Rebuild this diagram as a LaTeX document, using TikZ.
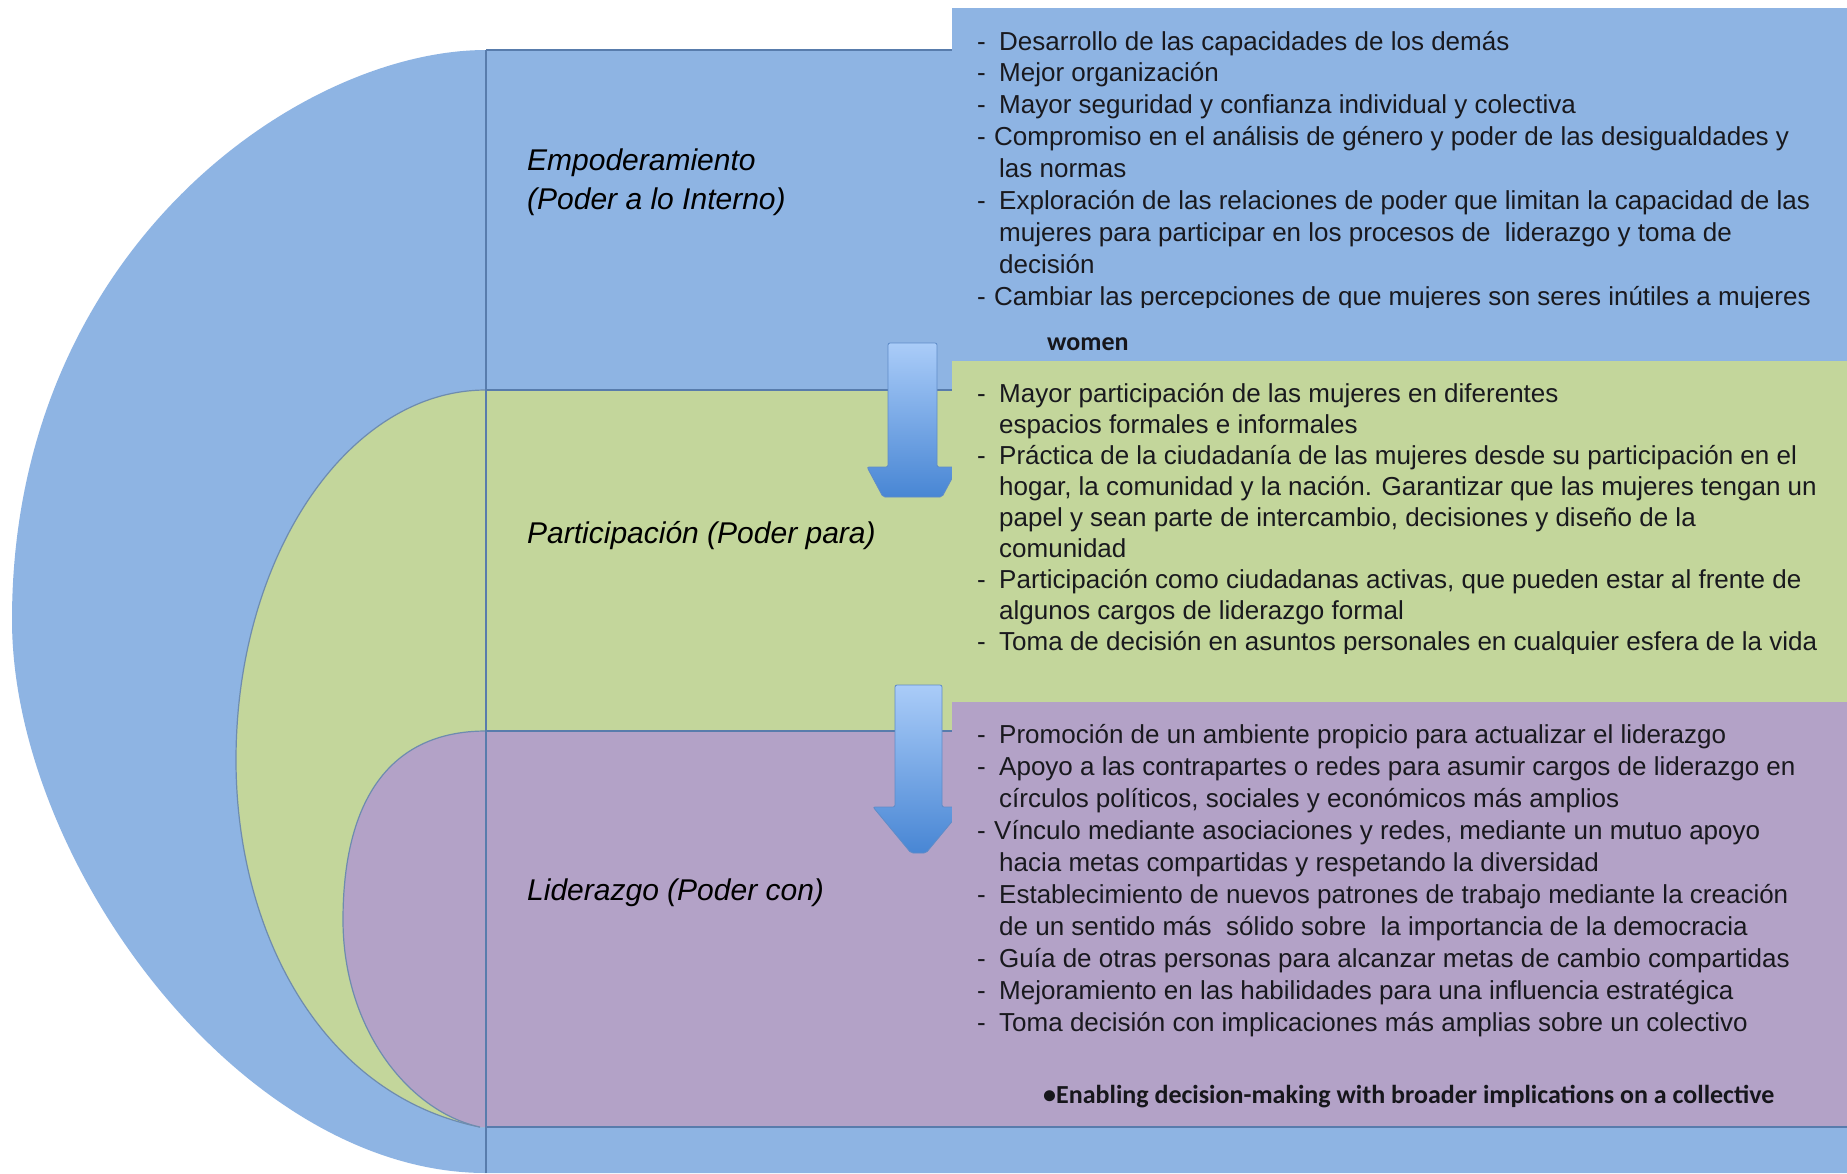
\documentclass[tikz,border=0pt]{standalone}
\usepackage{fontspec}
\setmainfont{Liberation Sans}
\newfontfamily\calib{Carlito}
\definecolor{bluefill}{RGB}{142,180,227}
\definecolor{greenfill}{RGB}{195,214,155}
\definecolor{purplefill}{RGB}{179,162,199}
\definecolor{sepc}{RGB}{88,124,172}
\definecolor{edgec}{RGB}{110,140,175}
\definecolor{textc}{RGB}{25,25,30}
\definecolor{arrtop}{RGB}{170,204,248}
\definecolor{arrbot}{RGB}{72,134,212}
\definecolor{arredge}{RGB}{95,140,200}
\newcommand\itemdash{\makebox[22pt][l]{-}}
\newcommand\itemdashn{\makebox[17pt][l]{-}}
\newcommand\itemind{\hspace*{22pt}}
\begin{document}
\begin{tikzpicture}[x=1pt,y=-1pt,
  bodytxt/.style={anchor=base west, inner sep=0pt, text=textc, font=\fontsize{26}{31}\selectfont},
  lab/.style={anchor=base west, inner sep=0pt, text=black, font=\fontsize{30}{36}\selectfont\itshape},
  eng/.style={anchor=base west, inner sep=0pt, text=textc!90!black, font=\calib\bfseries\fontsize{26}{31}\selectfont},
  sep/.style={draw=sepc, line width=1.6pt},
  edgeline/.style={draw=edgec, line width=1.2pt},
  arrowshape/.style={top color=arrtop, bottom color=arrbot, draw=arredge, line width=0.8pt, rounded corners=2pt}]
\fill[white] (0,0) rectangle (1847,1173);
\useasboundingbox (0,0) rectangle (1847,1173);
% outer blue shape
\fill[bluefill] (486,50) .. controls (300,50) and (12,250) .. (12,620)
  .. controls (12,860) and (240,1173) .. (486,1173) -- (1847,1173) -- (1847,50) -- cycle;
% green shape
\fill[greenfill] (486,390) .. controls (348,390) and (236,556) .. (236,760)
  .. controls (236,930) and (320,1095) .. (480,1127) -- (1847,1127) -- (1847,390) -- cycle;
\draw[edgeline] (486,390) .. controls (348,390) and (236,556) .. (236,760)
  .. controls (236,930) and (320,1095) .. (480,1127);
% purple shape
\fill[purplefill] (486,731) .. controls (390,731) and (343,800) .. (343,920)
  .. controls (343,1030) and (410,1112) .. (480,1127) -- (1847,1127) -- (1847,731) -- cycle;
\draw[edgeline] (486,731) .. controls (390,731) and (343,800) .. (343,920)
  .. controls (343,1030) and (410,1112) .. (480,1127);
% separator lines
\draw[sep] (486,50) -- (952,50);
\draw[sep] (486,390) -- (952,390);
\draw[sep] (486,731) -- (952,731);
\draw[sep] (486,50) -- (486,1173);
% arrows
\shade[arrowshape] (888,343) -- (937,343) -- (937,467) -- (958,467) -- (942,497) -- (883,497) -- (867,467) -- (888,467) -- cycle;
\shade[arrowshape] (895,685) -- (942,685) -- (942,807) -- (964,807) -- (926,853) -- (911,853) -- (873,807) -- (895,807) -- cycle;
% text boxes
\fill[bluefill] (952,8) rectangle (1847,361);
\fill[greenfill] (952,361) rectangle (1847,702);
\fill[purplefill] (952,702) rectangle (1847,1127);
\draw[sep] (486,1127) -- (1847,1127);
% labels
\node[lab] (emp1) at (527,170) {Empoderamiento};
\node[lab] (emp2) at (527,209) {(Poder a lo Interno)};
\node[lab] (part) at (527,543) {Participación (Poder para)};
\node[lab] (lid) at (527,900) {Liderazgo (Poder con)};
% blue box text
\begin{scope}
\clip (952,8) rectangle (1847,307.5);
\foreach \t [count=\i from 0] in {
  {\itemdash Desarrollo de las capacidades de los demás},
  {\itemdash Mejor organización},
  {\itemdash Mayor seguridad y confianza individual y colectiva},
  {\itemdashn Compromiso en el análisis de género y poder de las desigualdades y},
  {\itemind las normas},
  {\itemdash Exploración de las relaciones de poder que limitan la capacidad de las},
  {\itemind mujeres para participar en los procesos de\ \ liderazgo y toma de},
  {\itemind decisión},
  {\itemdashn Cambiar las percepciones de que mujeres son seres inútiles a mujeres}}
  \node[bodytxt] (bt\i) at (977,50+31.9*\i) {\t};
\end{scope}
\node[eng] (wom) at (1047,350) {women};
% green box text
\begin{scope}
\clip (952,361) rectangle (1847,653.5);
\foreach \t [count=\i from 0] in {
  {\itemdash Mayor participación de las mujeres en diferentes},
  {\itemind espacios formales e informales},
  {\itemdash Práctica de la ciudadanía de las mujeres desde su participación en el},
  {\itemind hogar, la comunidad y la nación. Garantizar que las mujeres tengan un},
  {\itemind papel y sean parte de intercambio, decisiones y diseño de la},
  {\itemind comunidad},
  {\itemdash Participación como ciudadanas activas, que pueden estar al frente de},
  {\itemind algunos cargos de liderazgo formal},
  {\itemdash Toma de decisión en asuntos personales en cualquier esfera de la vida}}
  \node[bodytxt] (gt\i) at (977,402+31.1*\i) {\t};
\end{scope}
% purple box text
\foreach \t [count=\i from 0] in {
  {\itemdash Promoción de un ambiente propicio para actualizar el liderazgo},
  {\itemdash Apoyo a las contrapartes o redes para asumir cargos de liderazgo en},
  {\itemind círculos políticos, sociales y económicos más amplios},
  {\itemdashn Vínculo mediante asociaciones y redes, mediante un mutuo apoyo},
  {\itemind hacia metas compartidas y respetando la diversidad},
  {\itemdash Establecimiento de nuevos patrones de trabajo mediante la creación},
  {\itemind de un sentido más\ \ sólido sobre\ \ la importancia de la democracia},
  {\itemdash Guía de otras personas para alcanzar metas de cambio compartidas},
  {\itemdash Mejoramiento en las habilidades para una influencia estratégica},
  {\itemdash Toma decisión con implicaciones más amplias sobre un colectivo}}
  \node[bodytxt] (pt\i) at (977,743+32.1*\i) {\t};
\node[eng] (enab) at (1043,1103) {•Enabling decision-making with broader implications on a collective};
\end{tikzpicture}
\end{document}
